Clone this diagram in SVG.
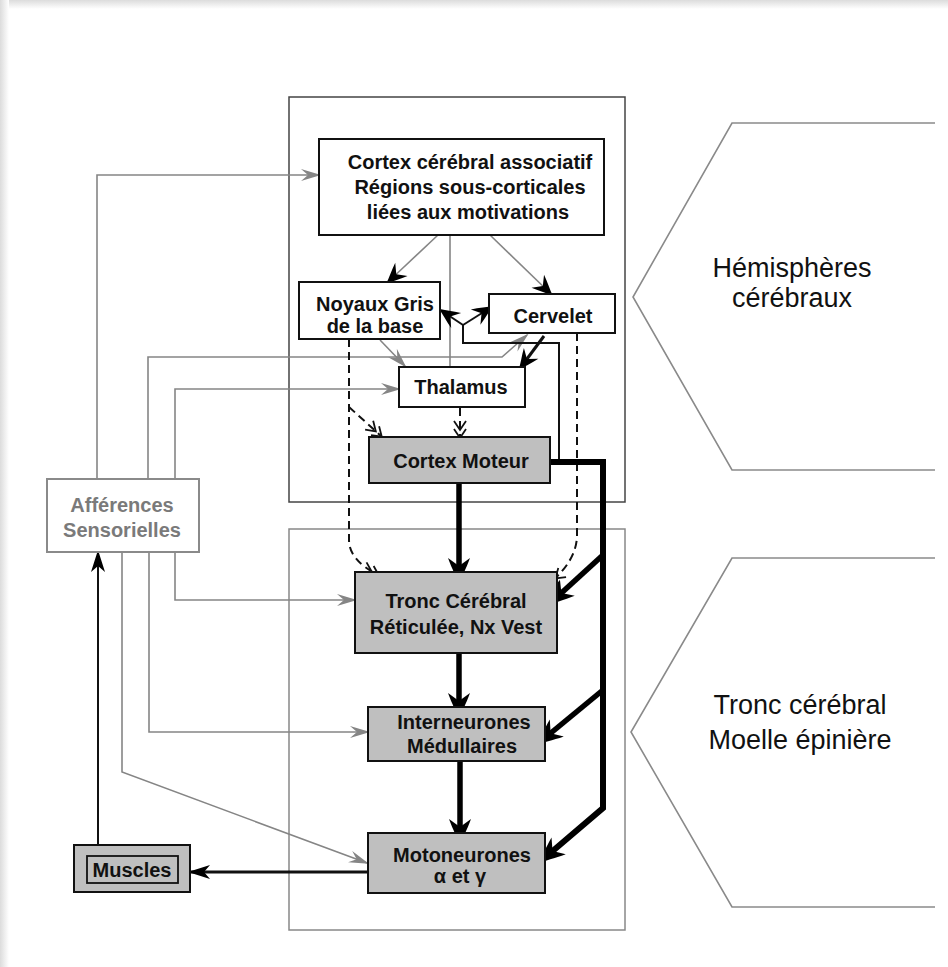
<svg xmlns="http://www.w3.org/2000/svg" width="948" height="967" viewBox="0 0 948 967">
<style>
.box{fill:#fff;stroke:#111;stroke-width:2}
.gbox{fill:#bfbfbf;stroke:#111;stroke-width:2}
.t{font-family:"Liberation Sans",Arial,sans-serif;font-weight:bold;font-size:20px;fill:#111;text-anchor:middle}
.lab{font-family:"Liberation Sans",Arial,sans-serif;font-size:27px;fill:#111;text-anchor:middle}
.gl{fill:none;stroke:#858585;stroke-width:1.6}
.bl{fill:none;stroke:#111;stroke-width:2}
.dl{fill:none;stroke:#111;stroke-width:2;stroke-dasharray:8 5}
.th{fill:none;stroke:#000;stroke-width:5.5}
.frame{fill:none;stroke:#666;stroke-width:1.5}
.chev{fill:none;stroke:#8a8a8a;stroke-width:1.6}
</style>
<defs>
<linearGradient id="gt" x1="0" y1="0" x2="0" y2="1"><stop offset="0" stop-color="#dcdcdc"/><stop offset="1" stop-color="#fff"/></linearGradient>
<linearGradient id="gleft" x1="0" y1="0" x2="1" y2="0"><stop offset="0" stop-color="#dcdcdc"/><stop offset="1" stop-color="#fff"/></linearGradient>
<marker id="ab" viewBox="-30 -13 32 26" refX="-14" refY="0" markerWidth="32" markerHeight="26" markerUnits="userSpaceOnUse" orient="auto">
<path d="M0,0 C-8,-2 -17,-7 -28,-11 L-20,0 L-28,11 C-17,7 -8,2 0,0 Z" fill="#000"/>
</marker>
<marker id="as" viewBox="-24 -11 26 22" refX="-4" refY="0" markerWidth="26" markerHeight="22" markerUnits="userSpaceOnUse" orient="auto">
<path d="M0,0 C-6,-2 -13,-6 -21,-9 L-14,0 L-21,9 C-13,6 -6,2 0,0 Z" fill="#000"/>
</marker>
<marker id="ag" viewBox="-22 -8 24 16" refX="-2" refY="0" markerWidth="24" markerHeight="16" markerUnits="userSpaceOnUse" orient="auto">
<path d="M0,0 L-20,-6 L-13,0 L-20,6 Z" fill="#858585"/>
</marker>
<marker id="ad" viewBox="-20 -8 22 16" refX="-1" refY="0" markerWidth="22" markerHeight="16" markerUnits="userSpaceOnUse" orient="auto">
<path d="M-9,-6 L0,0 L-9,6 M-17,-6 L-8,0 L-17,6" fill="none" stroke="#111" stroke-width="1.8"/>
</marker>
<marker id="am" viewBox="-24 -8 26 16" refX="-3" refY="0" markerWidth="26" markerHeight="16" markerUnits="userSpaceOnUse" orient="auto">
<path d="M0,0 L-22,-7 L-16,0 L-22,7 Z" fill="#000"/>
</marker>
</defs>
<rect x="0" y="0" width="948" height="967" fill="#fff"/>
<rect x="0" y="0" width="948" height="9" fill="url(#gt)"/>
<rect x="0" y="0" width="9" height="967" fill="url(#gleft)"/>

<g id="frame-hemispheres"><rect class="frame" x="289" y="97" width="336" height="405" style="stroke:#444"/></g>
<g id="frame-tronc"><rect class="frame" x="289" y="529" width="336" height="401" style="stroke:#888"/></g>

<g id="label-hemispheres">
<path class="chev" d="M935,123 H732 L633,297 L732,470 H935"/>
<text class="lab" x="792" y="277">Hémisphères</text>
<text class="lab" x="792" y="307">cérébraux</text>
</g>
<g id="label-tronc">
<path class="chev" d="M935,558 H732 L631,732 L732,907 H935"/>
<text class="lab" x="800" y="714">Tronc cérébral</text>
<text class="lab" x="800" y="749">Moelle épinière</text>
</g>

<g id="connectors">
<path class="gl" d="M97,479 V175 H319" marker-end="url(#ag)"/>
<path class="gl" d="M148,479 V357 H502 L527,335" marker-end="url(#ag)"/>
<path class="gl" d="M175,479 V389 H399" marker-end="url(#ag)"/>
<path class="gl" d="M175,552 V600 H355" marker-end="url(#ag)"/>
<path class="gl" d="M149,552 V732 H368" marker-end="url(#ag)"/>
<path class="gl" d="M122,552 V772 L367,863" marker-end="url(#ag)"/>
<path class="gl" d="M438,235 L389,281" marker-end="url(#as)"/>
<path class="gl" d="M490,235 L550,293" marker-end="url(#as)"/>
<path class="gl" d="M450,235 V367"/>
<path class="gl" d="M380,340 L405,366" marker-end="url(#ag)"/>
<path class="bl" d="M559,462 V343 H463 V325"/>
<path class="bl" d="M463,325 L442,311" marker-end="url(#as)"/>
<path class="bl" d="M463,325 L490,308" marker-end="url(#as)"/>
<path class="bl" style="stroke-width:3" d="M544,336 L521,367" marker-end="url(#as)"/>
<path class="dl" d="M349,339 V540 Q349,560 378,575" marker-end="url(#ad)"/>
<path class="dl" d="M349,407 L381,436" marker-end="url(#ad)"/>
<path class="dl" d="M460,408 V437" marker-end="url(#ad)"/>
<path class="dl" d="M577,333 V535 Q577,560 550,583" marker-end="url(#ad)"/>
<path class="th" d="M459,483 V572" marker-end="url(#ab)"/>
<path class="th" d="M459,653 V707" marker-end="url(#ab)"/>
<path class="th" d="M460,761 V833" marker-end="url(#ab)"/>
<path class="th" style="stroke-width:6" d="M550,462 H603 V808 L548,855" marker-end="url(#ab)"/>
<path class="th" d="M603,555 L557,597" marker-end="url(#ab)"/>
<path class="th" d="M603,690 L546,737" marker-end="url(#ab)"/>
<path class="bl" style="stroke-width:3" d="M368,872 H191" marker-end="url(#am)"/>
<path class="bl" d="M98,845 V553" marker-end="url(#am)"/>
</g>

<g id="cortex-associatif">
<rect class="box" x="319" y="139" width="285" height="96"/>
<text class="t" x="470" y="169">Cortex cérébral associatif</text>
<text class="t" x="470" y="194">Régions sous-corticales</text>
<text class="t" x="468" y="219">liées aux motivations</text>
</g>
<g id="noyaux-gris">
<rect class="box" x="299" y="282" width="141" height="57"/>
<text class="t" x="375" y="311">Noyaux Gris</text>
<text class="t" x="375" y="333">de la base</text>
</g>
<g id="cervelet">
<rect class="box" x="489" y="294" width="126" height="39"/>
<text class="t" x="553" y="323">Cervelet</text>
</g>
<g id="thalamus">
<rect class="box" x="399" y="367" width="126" height="40"/>
<text class="t" x="461" y="394">Thalamus</text>
</g>
<g id="cortex-moteur">
<rect class="gbox" x="369" y="437" width="181" height="46"/>
<text class="t" x="461" y="468">Cortex Moteur</text>
</g>
<g id="tronc-cerebral">
<rect class="gbox" x="355" y="572" width="202" height="81"/>
<text class="t" x="456" y="608">Tronc Cérébral</text>
<text class="t" x="456" y="634">Réticulée, Nx Vest</text>
</g>
<g id="interneurones">
<rect class="gbox" x="368" y="707" width="177" height="54"/>
<text class="t" x="464" y="729">Interneurones</text>
<text class="t" x="462" y="753">Médullaires</text>
</g>
<g id="motoneurones">
<rect class="gbox" x="368" y="833" width="177" height="60"/>
<text class="t" x="462" y="862">Motoneurones</text>
<text class="t" x="460" y="883">α et γ</text>
</g>
<g id="afferences">
<rect x="47" y="479" width="152" height="73" fill="#fff" stroke="#8a8a8a" stroke-width="2"/>
<text class="t" x="122" y="512" style="fill:#7a7a7a">Afférences</text>
<text class="t" x="122" y="537" style="fill:#7a7a7a">Sensorielles</text>
</g>
<g id="muscles">
<rect class="gbox" x="74" y="845" width="116" height="47"/>
<rect class="gbox" x="87" y="856" width="91" height="27" style="stroke-width:1.8"/>
<text class="t" x="132" y="877">Muscles</text>
</g>
</svg>
